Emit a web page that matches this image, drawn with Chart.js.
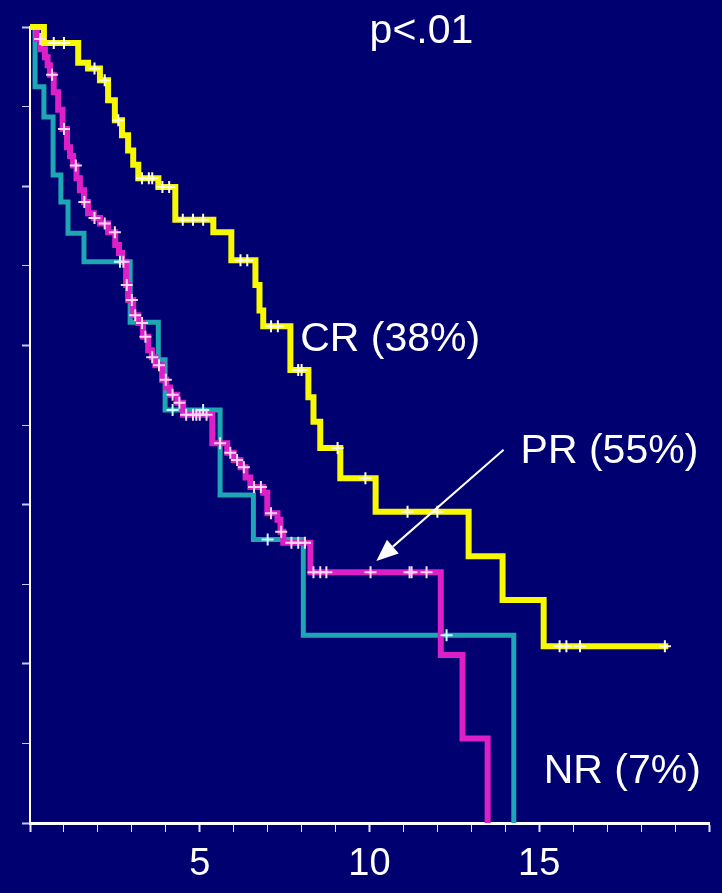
<!DOCTYPE html>
<html>
<head>
<meta charset="utf-8">
<script src="https://cdn.jsdelivr.net/npm/chart.js@4.4.1/dist/chart.umd.min.js"></script>
<style>
  html, body { margin: 0; padding: 0; background: #000070; }
  canvas { display: block; }
</style>
</head>
<body>
<canvas id="kmChart" width="722" height="893"></canvas>
<script>
// survival curves (time, survival after the step)
const crTimes = [0, 0.41, 1.42, 1.71, 2.06, 2.3, 2.5, 2.71, 2.89, 3.04, 3.19, 3.78, 4.28, 5.4, 5.93, 6.64, 6.76, 6.87, 7.67, 8.2, 8.35, 8.55, 9.14, 10.18, 12.92, 13.92, 15.13, 18.8];
const crSurv  = [1.0, 0.98, 0.955, 0.948, 0.933, 0.908, 0.883, 0.864, 0.845, 0.827, 0.81, 0.799, 0.758, 0.742, 0.707, 0.676, 0.644, 0.624, 0.569, 0.535, 0.504, 0.471, 0.433, 0.391, 0.335, 0.28, 0.222, 0.222];
const crCensor = [0.7, 1.0, 1.9, 2.2, 2.6, 3.3, 3.5, 3.6, 3.9, 4.1, 4.5, 4.8, 5.1, 6.2, 6.4, 7.1, 7.3, 7.9, 8.0, 9.06, 9.88, 11.12, 12.0, 15.6, 15.8, 16.2, 18.7];

const prTimes = [0, 0.2, 0.32, 0.44, 0.52, 0.59, 0.7, 0.83, 0.96, 1.09, 1.18, 1.27, 1.37, 1.47, 1.59, 1.71, 1.88, 2.06, 2.3, 2.51, 2.62, 2.71, 2.83, 2.89, 3.04, 3.19, 3.33, 3.48, 3.59, 3.69, 3.89, 4.01, 4.13, 4.34, 4.51, 5.37, 5.81, 6.0, 6.2, 6.35, 6.49, 6.87, 6.99, 7.29, 7.38, 7.46, 8.26, 12.1, 12.74, 13.48];
const prSurv  = [1.0, 0.985, 0.972, 0.962, 0.952, 0.94, 0.918, 0.896, 0.872, 0.849, 0.838, 0.826, 0.81, 0.795, 0.78, 0.766, 0.76, 0.753, 0.742, 0.726, 0.716, 0.705, 0.676, 0.657, 0.638, 0.628, 0.611, 0.594, 0.585, 0.575, 0.557, 0.547, 0.538, 0.528, 0.513, 0.477, 0.465, 0.456, 0.447, 0.434, 0.422, 0.415, 0.389, 0.381, 0.366, 0.352, 0.315, 0.211, 0.106, 0];
const prCensor = [0.3, 0.65, 1.0, 1.35, 1.6, 1.9, 2.2, 2.5, 2.75, 2.85, 3.0, 3.1, 3.3, 3.4, 3.6, 3.8, 4.0, 4.2, 4.4, 4.6, 4.8, 4.9, 5.0, 5.2, 5.6, 5.9, 6.1, 6.3, 6.6, 6.8, 7.1, 7.4, 7.7, 7.9, 8.1, 8.35, 8.55, 8.73, 10.03, 11.18, 11.24, 11.68];

const nrTimes = [0, 0.15, 0.41, 0.68, 0.91, 1.12, 1.59, 2.95, 3.78, 3.98, 5.6, 6.58, 8.05, 14.25];
const nrSurv  = [1.0, 0.925, 0.887, 0.814, 0.78, 0.741, 0.705, 0.629, 0.582, 0.519, 0.412, 0.356, 0.236, 0];
const nrCensor = [2.65, 4.2, 5.1, 7.0, 12.27];

const xLabels = [5, 10, 15];

// annotation texts: [text, time, survival, align]
const notes = [
  ['p<.01', 11.53, 0.994, 'center'],
  ['CR (38%)', 7.96, 0.607, 'left'],
  ['PR (55%)', 14.45, 0.466, 'left'],
  ['NR (7%)', 15.13, 0.064, 'left']
];
const arrowFrom = [13.95, 0.469];
const arrowTo = [10.2, 0.329];

function steps(times, surv) {
  return times.map((t, i) => ({ x: t, y: surv[i] }));
}

function survAt(times, surv, t) {
  let s = surv[0];
  for (let i = 0; i < times.length; i++) {
    if (times[i] <= t) s = surv[i];
  }
  return s;
}

function censorPts(cens, times, surv) {
  return cens.map(t => ({ x: t, y: survAt(times, surv, t) }));
}

const notesPlugin = {
  id: 'notes',
  afterDatasetsDraw(chart) {
    const ctx = chart.ctx;
    const xs = chart.scales.x, ys = chart.scales.y;
    ctx.save();
    ctx.fillStyle = '#ffffff';
    ctx.font = '41px "Liberation Sans", Arial, sans-serif';
    ctx.textBaseline = 'middle';
    notes.forEach(n => {
      ctx.textAlign = n[3];
      ctx.fillText(n[0], xs.getPixelForValue(n[1]), ys.getPixelForValue(n[2]));
    });
    // arrow
    const x1 = xs.getPixelForValue(arrowFrom[0]), y1 = ys.getPixelForValue(arrowFrom[1]);
    const x2 = xs.getPixelForValue(arrowTo[0]), y2 = ys.getPixelForValue(arrowTo[1]);
    const ang = Math.atan2(y2 - y1, x2 - x1);
    const hl = 22, hw = 9;
    const bx = x2 - hl * Math.cos(ang), by = y2 - hl * Math.sin(ang);
    ctx.strokeStyle = '#ffffff';
    ctx.lineWidth = 2;
    ctx.beginPath();
    ctx.moveTo(x1, y1);
    ctx.lineTo(bx, by);
    ctx.stroke();
    ctx.beginPath();
    ctx.moveTo(x2, y2);
    ctx.lineTo(bx + hw * Math.sin(ang), by - hw * Math.cos(ang));
    ctx.lineTo(bx - hw * Math.sin(ang), by + hw * Math.cos(ang));
    ctx.closePath();
    ctx.fill();
    ctx.restore();
  }
};

const lineBase = { stepped: 'before', pointRadius: 0, fill: false, clip: 12, borderJoinStyle: 'miter', borderCapStyle: 'butt' };
const markBase = { type: 'scatter', pointStyle: 'cross', pointRadius: 6, borderWidth: 2, clip: 12 };

new Chart(document.getElementById('kmChart'), {
  type: 'line',
  data: {
    datasets: [
      Object.assign({ label: 'CR cens', data: censorPts(crCensor, crTimes, crSurv), borderColor: '#ffffe8', backgroundColor: '#ffffe8' }, markBase),
      Object.assign({ label: 'PR cens', data: censorPts(prCensor, prTimes, prSurv), borderColor: '#ffd8f4', backgroundColor: '#ffd8f4' }, markBase),
      Object.assign({ label: 'NR cens', data: censorPts(nrCensor, nrTimes, nrSurv), borderColor: '#c8ffff', backgroundColor: '#c8ffff' }, markBase),
      Object.assign({ label: 'CR', data: steps(crTimes, crSurv), borderColor: '#f8f800', borderWidth: 6 }, lineBase),
      Object.assign({ label: 'PR', data: steps(prTimes, prSurv), borderColor: '#dd1fc8', borderWidth: 6 }, lineBase),
      Object.assign({ label: 'NR', data: steps(nrTimes, nrSurv), borderColor: '#1ea6b4', borderWidth: 5 }, lineBase)
    ]
  },
  options: {
    responsive: false,
    animation: false,
    layout: { padding: { left: 22, right: 13, top: 27, bottom: 0 } },
    plugins: {
      legend: { display: false },
      tooltip: { enabled: false }
    },
    scales: {
      x: {
        type: 'linear',
        min: 0,
        max: 20,
        afterFit: s => { s.height = 70; },
        border: { color: '#ffffff', width: 3 },
        grid: {
          drawOnChartArea: false,
          tickColor: '#e8e8ff',
          tickLength: 9,
          tickWidth: c => (c.tick && c.tick.value % 5 === 0 ? 2 : 1)
        },
        ticks: {
          stepSize: 1,
          autoSkip: false,
          maxRotation: 0,
          padding: 10,
          color: '#ffffff',
          font: { family: '"Liberation Sans", Arial, sans-serif', size: 38 },
          callback: v => (xLabels.includes(v) ? String(v) : '')
        }
      },
      y: {
        min: 0,
        max: 1,
        afterFit: s => { s.width = 8; },
        border: { color: '#ffffff', width: 2 },
        grid: {
          drawOnChartArea: false,
          tickColor: '#c8c8ff',
          tickLength: 8,
          tickWidth: c => (c.tick && Math.round(c.tick.value * 10) % 2 === 0 ? 2 : 1)
        },
        ticks: { stepSize: 0.1, display: false }
      }
    }
  },
  plugins: [notesPlugin]
});
</script>
</body>
</html>
